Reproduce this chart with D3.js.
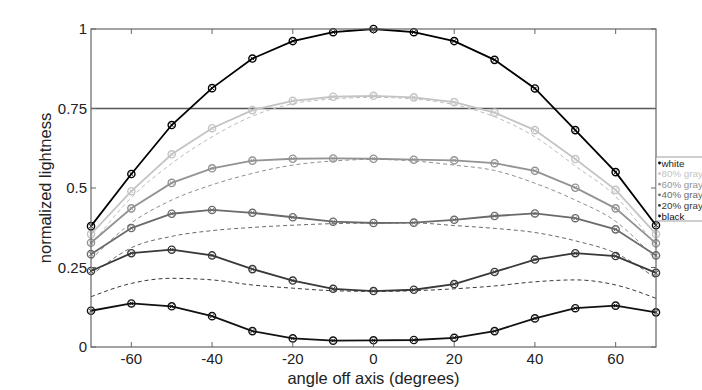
<!DOCTYPE html>
<html>
<head>
<meta charset="utf-8">
<script src="https://cdn.jsdelivr.net/npm/d3@7"></script>
<style>
  html, body { margin: 0; padding: 0; background: #fff; overflow: hidden; }
  svg { display: block; }
  text { font-family: "Liberation Sans", Arial, sans-serif; }
</style>
</head>
<body>
<div id="chart"></div>
<script>
const angles = [-70, -60, -50, -40, -30, -20, -10, 0, 10, 20, 30, 40, 50, 60, 70];

const seriesNames = ["white", "80% gray", "60% gray", "40% gray", "20% gray", "black"];
const seriesColors = ["#000000", "#c4c4c4", "#939393", "#6a6a6a", "#383838", "#111111"];

const white   = [0.380, 0.544, 0.698, 0.814, 0.907, 0.962, 0.990, 1.000, 0.990, 0.962, 0.903, 0.813, 0.682, 0.550, 0.383];
const gray80  = [0.355, 0.490, 0.606, 0.688, 0.745, 0.774, 0.787, 0.790, 0.785, 0.770, 0.737, 0.682, 0.591, 0.494, 0.355];
const gray60  = [0.328, 0.436, 0.516, 0.562, 0.586, 0.592, 0.593, 0.592, 0.589, 0.587, 0.578, 0.554, 0.501, 0.436, 0.326];
const gray40  = [0.292, 0.374, 0.419, 0.431, 0.422, 0.408, 0.394, 0.390, 0.391, 0.400, 0.412, 0.420, 0.405, 0.370, 0.288];
const gray20  = [0.239, 0.295, 0.306, 0.288, 0.245, 0.209, 0.183, 0.176, 0.180, 0.198, 0.236, 0.275, 0.295, 0.286, 0.233];
const black   = [0.114, 0.137, 0.128, 0.097, 0.050, 0.027, 0.020, 0.021, 0.022, 0.029, 0.050, 0.090, 0.122, 0.130, 0.109];

// dashed reference curves
const ref80 = [0.320, 0.470, 0.577, 0.661, 0.726, 0.765, 0.780, 0.785, 0.780, 0.762, 0.724, 0.661, 0.569, 0.473, 0.315];
const ref60 = [0.275, 0.390, 0.462, 0.510, 0.546, 0.572, 0.585, 0.590, 0.585, 0.572, 0.555, 0.515, 0.462, 0.395, 0.275];
const ref40 = [0.225, 0.312, 0.348, 0.366, 0.376, 0.383, 0.388, 0.390, 0.390, 0.382, 0.373, 0.360, 0.334, 0.295, 0.216];
const ref20 = [0.158, 0.200, 0.216, 0.211, 0.195, 0.185, 0.177, 0.175, 0.177, 0.183, 0.192, 0.205, 0.211, 0.195, 0.153];
const refColors = ["#bdbdbd", "#8f8f8f", "#6a6a6a", "#3a3a3a"];

const xTicks = [-60, -40, -20, 0, 20, 40, 60];
const yTicks = [0, 0.25, 0.5, 0.75, 1];
const yTickLabels = ["0", "0.25", "0.5", "0.75", "1"];

const width = 702, height = 390;
const margin = {left: 91, right: 46, top: 29, bottom: 43};

const svg = d3.select("#chart").append("svg")
    .attr("width", width)
    .attr("height", height);

const x = d3.scaleLinear().domain([-70, 70]).range([margin.left, width - margin.right]);
const y = d3.scaleLinear().domain([0, 1]).range([height - margin.bottom, margin.top]);

const axisColor = "#666";

// reference line at 0.75
svg.append("line")
    .attr("x1", x(-70)).attr("x2", x(70))
    .attr("y1", y(0.75)).attr("y2", y(0.75))
    .attr("stroke", "#555").attr("stroke-width", 1.4);

// dashed references
const smooth = d3.line()
    .x((d, i) => x(angles[i]))
    .y(d => y(d))
    .curve(d3.curveMonotoneX);

[ref80, ref60, ref40, ref20].forEach((s, k) => {
    svg.append("path")
        .datum(s)
        .attr("d", smooth)
        .attr("fill", "none")
        .attr("stroke", refColors[k])
        .attr("stroke-width", 1)
        .attr("stroke-dasharray", "4,3");
});

const line = d3.line()
    .x((d, i) => x(angles[i]))
    .y(d => y(d));

const allSeries = [white, gray80, gray60, gray40, gray20, black];

// draw lighter ones first so black ends up on top
[1, 2, 3, 4, 5, 0].forEach(k => {
    const s = allSeries[k];
    const g = svg.append("g");
    g.append("path")
        .datum(s)
        .attr("d", line)
        .attr("fill", "none")
        .attr("stroke", seriesColors[k])
        .attr("stroke-width", 1.8);
    const pts = g.selectAll("g.pt")
        .data(s)
        .enter().append("g")
        .attr("class", "pt")
        .attr("transform", (d, i) => "translate(" + x(angles[i]) + "," + y(d) + ")");
    pts.append("circle")
        .attr("r", 3.6)
        .attr("fill", "none")
        .attr("stroke", seriesColors[k])
        .attr("stroke-width", 1.4);
    pts.append("path")
        .attr("d", "M-1.8,-1.8L1.8,1.8M-1.8,1.8L1.8,-1.8")
        .attr("stroke", seriesColors[k])
        .attr("stroke-width", 1);
});

// box
svg.append("rect")
    .attr("x", x(-70)).attr("y", y(1))
    .attr("width", x(70) - x(-70))
    .attr("height", y(0) - y(1))
    .attr("fill", "none")
    .attr("stroke", axisColor)
    .attr("stroke-width", 1.2);

// inward ticks
const tickLen = 5;
xTicks.forEach(t => {
    svg.append("line").attr("x1", x(t)).attr("x2", x(t))
        .attr("y1", y(0)).attr("y2", y(0) - tickLen)
        .attr("stroke", axisColor);
    svg.append("line").attr("x1", x(t)).attr("x2", x(t))
        .attr("y1", y(1)).attr("y2", y(1) + tickLen)
        .attr("stroke", axisColor);
    svg.append("text")
        .attr("x", x(t)).attr("y", y(0) + 17)
        .attr("text-anchor", "middle")
        .attr("font-size", 15)
        .attr("fill", "#222")
        .text(t);
});
yTicks.forEach((t, i) => {
    svg.append("line").attr("x1", x(-70)).attr("x2", x(-70) + tickLen)
        .attr("y1", y(t)).attr("y2", y(t))
        .attr("stroke", axisColor);
    svg.append("line").attr("x1", x(70)).attr("x2", x(70) - tickLen)
        .attr("y1", y(t)).attr("y2", y(t))
        .attr("stroke", axisColor);
    svg.append("text")
        .attr("x", x(-70) - 4).attr("y", y(t) + 5)
        .attr("text-anchor", "end")
        .attr("font-size", 15)
        .attr("fill", "#222")
        .text(yTickLabels[i]);
});

// axis titles
svg.append("text")
    .attr("x", (x(-70) + x(70)) / 2).attr("y", 384)
    .attr("text-anchor", "middle")
    .attr("font-size", 16.5)
    .attr("fill", "#222")
    .text("angle off axis (degrees)");

svg.append("text")
    .attr("transform", "translate(51," + y(0.5) + ") rotate(-90)")
    .attr("text-anchor", "middle")
    .attr("font-size", 16.5)
    .attr("fill", "#222")
    .text("normalized lightness");

// legend
const legend = svg.append("g").attr("transform", "translate(656,157)");
legend.append("rect")
    .attr("width", 60).attr("height", 64)
    .attr("fill", "#fff")
    .attr("stroke", "#888")
    .attr("stroke-width", 0.8);
seriesNames.forEach((n, i) => {
    const ly = 6 + i * 10.6;
    legend.append("circle")
        .attr("cx", 3.5).attr("cy", ly)
        .attr("r", 1.4)
        .attr("fill", seriesColors[i]);
    legend.append("text")
        .attr("x", 5.5).attr("y", ly + 3.5)
        .attr("font-size", 9.8)
        .attr("fill", i === 0 ? "#222" : seriesColors[i])
        .text(n);
});
</script>
</body>
</html>
